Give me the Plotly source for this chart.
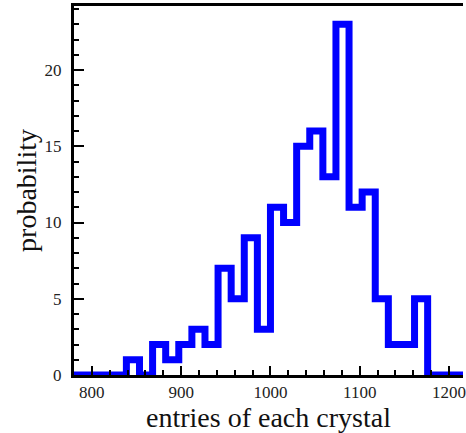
import plotly.graph_objects as go

# Histogram of entries per crystal: 30 equal bins between 780 and 1220
bin_start = 780
bin_stop = 1220
n_bins = 30
counts = [0, 0, 0, 0, 1, 0, 2, 1, 2, 3, 2, 7, 5, 9, 3, 11, 10, 15, 16, 13,
          23, 11, 12, 5, 2, 2, 5, 0, 0, 0]
x_ticks = [800, 900, 1000, 1100, 1200]
y_ticks = [0, 5, 10, 15, 20]

width = (bin_stop - bin_start) / n_bins
edges = [bin_start + i * width for i in range(n_bins + 1)]
step_y = counts + [counts[-1]]

fig = go.Figure(
    go.Scatter(
        x=edges,
        y=step_y,
        mode="lines",
        line=dict(color="#0000ff", width=7, shape="hv"),
        cliponaxis=False,
        hoverinfo="skip",
    )
)

tick_font = dict(family="Liberation Serif", size=17, color="#222222")
title_font = dict(family="Liberation Serif", size=28, color="#111111")

fig.update_layout(
    width=466,
    height=433,
    margin=dict(l=74, r=0, t=6, b=58),
    paper_bgcolor="white",
    plot_bgcolor="white",
    showlegend=False,
    xaxis=dict(
        range=[780, 1215.6],
        tickvals=x_ticks,
        ticks="inside",
        ticklen=9,
        tickwidth=2,
        tickcolor="black",
        minor=dict(dtick=20, tick0=780, ticks="inside", ticklen=5,
                   tickwidth=2, tickcolor="black"),
        showline=True,
        linewidth=3,
        linecolor="black",
        mirror=True,
        showgrid=False,
        zeroline=False,
        tickfont=tick_font,
        ticklabelstandoff=0,
        ticklabeloverflow="allow",
        title=dict(text="entries of each crystal", font=title_font, standoff=4),
    ),
    yaxis=dict(
        range=[0, 24.2],
        tickvals=y_ticks,
        ticks="inside",
        ticklen=10,
        tickwidth=2,
        tickcolor="black",
        minor=dict(dtick=1, tick0=0, ticks="inside", ticklen=5,
                   tickwidth=2, tickcolor="black"),
        showline=True,
        linewidth=3,
        linecolor="black",
        mirror=False,
        showgrid=False,
        zeroline=False,
        tickfont=tick_font,
        ticklabelstandoff=6,
        title=dict(text="probability", font=title_font, standoff=0),
    ),
)

fig.write_html("out.html")
